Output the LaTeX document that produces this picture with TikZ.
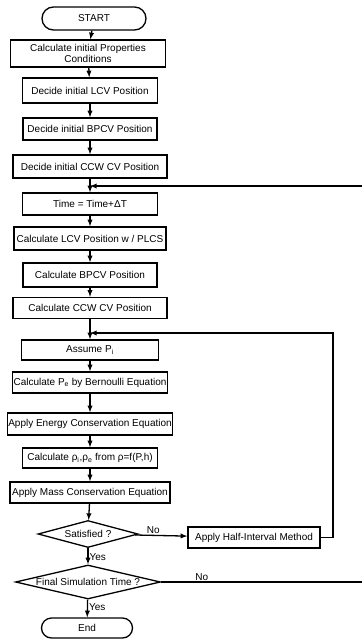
\documentclass[tikz,border=0pt]{standalone}
\usepackage{fontspec}
\setmainfont{Liberation Sans}
\usetikzlibrary{shapes,calc}

\begin{document}
\begin{tikzpicture}[x=1pt, y=-1pt, >=latex, line width=1.3pt,
  box/.style={draw, rectangle, inner sep=1pt, align=center, font=\fontsize{10}{11}\selectfont},
  term/.style={draw, rounded rectangle, inner sep=1pt, font=\fontsize{10}{11}\selectfont},
  decision/.style={draw, diamond, inner sep=0pt, label={[font=\fontsize{10}{11}\selectfont]center:#1}},
  lbl/.style={font=\fontsize{10}{11}\selectfont, inner sep=1pt}]
\useasboundingbox (0,0) rectangle (361,639);
\node (start) at (94, 18.5) [term, minimum width=106, minimum height=23] {START};
\node (b1) at (88, 53.5) [box, minimum width=155, minimum height=27] {Calculate initial Properties\\Conditions};
\node (b2) at (90, 90.5) [box, minimum width=135, minimum height=25] {Decide initial LCV Position};
\node (b3) at (90, 129) [box, minimum width=134, minimum height=22] {Decide initial BPCV Position};
\node (b4) at (90, 166.5) [box, minimum width=154, minimum height=23] {Decide initial CCW CV Position};
\coordinate (j1) at (90, 186);
\node (b5) at (90, 204) [box, minimum width=135, minimum height=22] {Time = Time+ΔT};
\node (b6) at (90, 238.5) [box, minimum width=152, minimum height=23] {Calculate LCV Position w / PLCS};
\node (b7) at (90, 275) [box, minimum width=134, minimum height=24] {Calculate BPCV Position};
\node (b8) at (90, 308) [box, minimum width=154, minimum height=21] {Calculate CCW CV Position};
\coordinate (j2) at (90, 333);
\node (b9) at (90, 350) [box, minimum width=137, minimum height=20] {Assume P\textsubscript{i}};
\node (b10) at (90, 382.5) [box, minimum width=152, minimum height=21] {Calculate P\textsubscript{e} by Bernoulli Equation};
\node (b11) at (90, 424) [box, minimum width=160, minimum height=22] {Apply Energy Conservation Equation};
\node (b12) at (90, 458) [box, minimum width=135, minimum height=20] {Calculate ρ\textsubscript{i},ρ\textsubscript{e} from ρ=f(P,h)};
\node (b13) at (90, 492.5) [box, minimum width=160, minimum height=21] {Apply Mass Conservation Equation};
\node (sat) at (88, 534) [decision={Satisfied ?}, minimum width=100, minimum height=27] {};
\node (half) at (254, 537.5) [box, minimum width=132, minimum height=21] {Apply Half-Interval Method};
\coordinate (r2) at (333, 537.5);
\node (final) at (88, 582) [decision={Final Simulation Time ?}, minimum width=145, minimum height=34] {};
\coordinate (r1) at (364, 582);
\node (end) at (87, 628) [term, minimum width=93, minimum height=20] {End};
\draw [->] (start) -- (b1);
\draw [->] (b1) -- (b2);
\draw [->] (b2) -- (b3);
\draw [->] (b3) -- (b4);
\draw (b4) -- (j1);
\draw [->] (j1) -- (b5);
\draw [->] (b5) -- (b6);
\draw [->] (b6) -- (b7);
\draw [->] (b7) -- (b8);
\draw (b8) -- (j2);
\draw [->] (j2) -- (b9);
\draw [->] (b9) -- (b10);
\draw [->] (b10) -- (b11);
\draw [->] (b11) -- (b12);
\draw [->] (b12) -- (b13);
\draw [->] (b13) -- (sat);
\draw [->] (sat) -- node [lbl, right, pos=0.55] {Yes} (final);
\draw [->] (final) -- node [lbl, right, pos=0.45] {Yes} (end);
\draw [->] (sat) -- node [lbl, above, pos=0.35] {No} (half);
\draw [->] (half) -- (r2) |- (j2);
\draw [->] (final) -- node [lbl, above, pos=0.2] {No} (r1) |- (j1);
\end{tikzpicture}
\end{document}
